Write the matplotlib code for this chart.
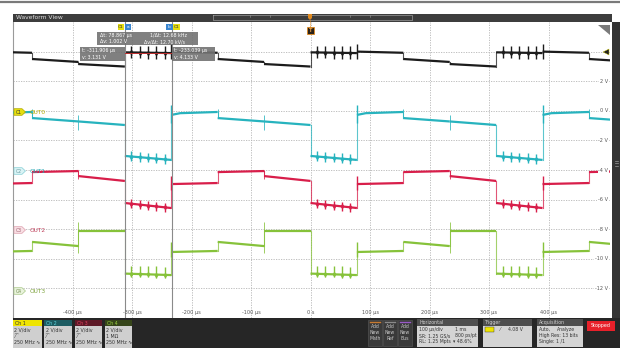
import numpy as np
import matplotlib
matplotlib.use('Agg')
import matplotlib.pyplot as plt
from matplotlib.patches import Rectangle, Polygon

plt.rcParams['font.family'] = ['DejaVu Sans']

# ---------------- data ----------------
time_ticks_us = [-400, -300, -200, -100, 0, 100, 200, 300, 400]
time_tick_labels = ['-400 µs', '-300 µs', '-200 µs', '-100 µs', '0 s', '100 µs', '200 µs', '300 µs', '400 µs']
volt_ticks = [2, 0, -2, -4, -6, -8, -10, -12]
volt_tick_labels = ['2 V', '0 V', '-2 V', '-4 V', '-6 V', '-8 V', '-10 V', '-12 V']

cycle_starts_us = [-624, -312, 0, 312]
phase_len_us = 78
burst_offsets_us = [11, 25, 39, 53, 67]

# (start, end) level of each phase in V : P0 burst, P1, P2, P3
black_levels = [(3.95, 3.90), (4.00, 3.92), (3.50, 3.30), (3.16, 2.99)]
cyan_levels = [(-3.05, -3.32), (-0.28, -0.08), (-0.49, -0.72), (-0.72, -0.96)]
red_levels = [(-6.23, -6.57), (-4.95, -4.88), (-4.14, -4.07), (-4.41, -4.74)]
green_levels = [(-11.00, -11.10), (-9.54, -9.47), (-8.86, -9.14), (-8.12, -8.12)]

# burst tick extents (up, down) from baseline, V
black_burst = (0.45, 0.40)
cyan_burst = (0.35, 0.30)
red_burst = (0.30, 0.30)
green_burst = (0.55, 0.20)

# spike at P0 -> P1 edge (max, min), V
black_spike = (4.50, 3.50)
cyan_spike = (0.39, -0.82)
red_spike = (-4.41, -5.36)
green_spike = (-8.86, -9.88)

# extra edge glitches: (offset in cycle µs, max V, min V)
cyan_glitches = [(234, -0.30, -1.30), (156, 0.10, -0.50)]
red_glitches = [(234, -4.00, -4.60)]
green_glitches = [(234, -7.50, -9.60)]
black_glitches = []

cursor_a_us = -311.906
cursor_b_us = -233.039

ch_colors = {'black': '#1c1c1c', 'cyan': '#27b3be', 'red': '#d81e4a', 'green': '#86c23a'}

# ---------------- figure ----------------
W, H = 620, 348
fig = plt.figure(figsize=(W / 100, H / 100), dpi=100)
fig.patch.set_facecolor('white')

ax = fig.add_axes([13 / W, 30 / H, 597 / W, 296 / H])
ax.set_xlim(-500, -500 + 597 / 0.595)
ax.set_ylim(-14, 6)
ax.set_facecolor('white')
for s in ['top', 'right', 'bottom']:
    ax.spines[s].set_visible(False)
ax.spines['left'].set_color('#9a9a9a')
ax.spines['left'].set_linewidth(0.8)
ax.set_xticks([])
ax.set_yticks([])

# grid
for t in time_ticks_us:
    ax.axvline(t, color='#b5b5b5', lw=0.6, ls=(0, (1.5, 1.5)), zorder=1)
for v in [4] + volt_ticks:
    ax.axhline(v, color='#b5b5b5', lw=0.6, ls=(0, (1.5, 1.5)), zorder=1)


def draw_channel(levels, burst, spike, glitches, color, knee=None):
    prev_end = None
    for c0 in cycle_starts_us:
        for p, (a, b) in enumerate(levels):
            t0 = c0 + p * phase_len_us
            t1 = t0 + phase_len_us
            ts = [t0, t1]
            vs = [a, b]
            if knee is not None and p == knee[0]:
                ts = [t0, t0 + knee[1], t1]
                vs = [a, knee[2], b]
            ax.plot(ts, vs, color=color, lw=1.6, solid_capstyle='butt', zorder=3)
            if prev_end is not None:
                ax.plot([t0, t0], [prev_end, a], color=color, lw=0.8, alpha=0.75, zorder=3)
            prev_end = b
        for o in burst_offsets_us:
            base = np.interp(o, [0, phase_len_us], levels[0])
            ax.vlines(c0 + o, base - burst[1], base + burst[0], color=color, lw=1.0, zorder=3)
            ax.plot([c0 + o], [base], marker='d', ms=3.2, color=color, mew=0, zorder=3)
        ax.vlines(c0 + phase_len_us, spike[1], spike[0], color=color, lw=1.0, zorder=3)
        for off, vmax, vmin in glitches:
            ax.vlines(c0 + off, vmin, vmax, color=color, lw=0.7, alpha=0.8, zorder=3)


draw_channel(black_levels, black_burst, black_spike, black_glitches, ch_colors['black'])
draw_channel(cyan_levels, cyan_burst, cyan_spike, cyan_glitches, ch_colors['cyan'], knee=(1, 15, -0.16))
draw_channel(red_levels, red_burst, red_spike, red_glitches, ch_colors['red'])
draw_channel(green_levels, green_burst, green_spike, green_glitches, ch_colors['green'])

# cursors
for tc in [cursor_a_us, cursor_b_us]:
    ax.axvline(tc, color='#8a8a8a', lw=0.8, zorder=4)
ax.plot([cursor_a_us, cursor_b_us], [3.92, 3.92], color='#c03030', lw=0.7, zorder=4)

# tick labels
xt = ax.get_xaxis_transform()
for t, lab in zip(time_ticks_us, time_tick_labels):
    ax.text(t, 0.017, lab, transform=xt, ha='center', va='center', fontsize=3.6, color='#555555', zorder=5)
yt = ax.get_yaxis_transform()
for v, lab in zip(volt_ticks, volt_tick_labels):
    ax.text(0.997, v, lab, transform=yt, ha='right', va='center', fontsize=3.6, color='#555555',
            bbox=dict(boxstyle='square,pad=0.15', fc='white', ec='none'), zorder=5)

# ---------------- overlay (pixel coords) ----------------
ov = fig.add_axes([0, 0, 1, 1], zorder=10)
ov.set_xlim(0, W)
ov.set_ylim(H, 0)
ov.axis('off')
ov.patch.set_alpha(0)


def rect(x0, y0, x1, y1, fc, ec='none', lw=0.5, z=1, alpha=1.0):
    ov.add_patch(Rectangle((x0, y0), x1 - x0, y1 - y0, fc=fc, ec=ec, lw=lw, zorder=z, alpha=alpha))


# top
ov.plot([0, W], [1.5, 1.5], color='#7a7a7a', lw=1.6)
rect(13, 13.5, 612, 22, '#3d3d3d')
ov.text(16, 17.8, 'Waveform View', fontsize=4.3, color='#e0e0e0', va='center')
ov.plot([213, 412, 412, 213, 213], [15.3, 15.3, 20.2, 20.2, 15.3], color='#9a9a9a', lw=0.5, zorder=2)
for xx in [250, 270, 350, 370]:
    ov.plot([xx, xx], [15.3, 17], color='#9a9a9a', lw=0.4, zorder=2)
ov.add_patch(Polygon([[308, 14], [312, 14], [312, 18], [310, 20], [308, 18]], closed=True, fc='#e08a20', ec='none', zorder=3))
ov.plot([310, 310], [20, 27], color='#e08a20', lw=0.7, ls=(0, (1, 1)), zorder=3)
rect(307, 27, 313.5, 33.5, '#2a2218', ec='#e08a20', lw=0.6, z=4)
ov.text(310.3, 30.4, 'T', fontsize=3.6, color='#f0a040', ha='center', va='center', weight='bold', zorder=5)

# right strip
rect(611.5, 22, 620, 318, '#343434')
for yy in [160.5, 163, 165.5]:
    ov.plot([615, 618], [yy, yy], color='#9a9a9a', lw=0.5)
ov.add_patch(Polygon([[598, 25], [610, 25], [610, 35]], closed=True, fc='#7a7a7a', ec='none'))
ov.add_patch(Polygon([[603, 52], [609, 49], [609, 55]], closed=True, fc='#222222', ec='#c8c000', lw=0.3))

# channel reference badges on the left
badges = [
    (112, 'C1', '#e6de10', '#b0a800', '#333333', 'OUT0', '#b4ac00'),
    (171, 'C2', '#d9f3f5', '#86cfd6', '#6a9aa0', 'OUT1', '#2aa8b5'),
    (230, 'C3', '#f8dfe4', '#dea0ae', '#a06070', 'OUT2', '#c0405c'),
    (291, 'C4', '#e9f3dc', '#a8c888', '#708a50', 'OUT3', '#7aa038'),
]
for yc, lab, fc, ec, tc, name, nc in badges:
    ov.add_patch(Polygon([[14, yc - 3.3], [22, yc - 3.3], [25.5, yc], [22, yc + 3.3], [14, yc + 3.3]],
                         closed=True, fc=fc, ec=ec, lw=0.5, zorder=6))
    ov.text(18.5, yc + 0.2, lab, fontsize=3.3, color=tc, ha='center', va='center', zorder=7)
    ov.text(30, yc + 0.2, name, fontsize=4.2, color=nc, ha='left', va='center', zorder=7)


def badge(x0, x1, y0, y1, fc, txt, tc):
    rect(x0, y0, x1, y1, fc, z=6)
    ov.text((x0 + x1) / 2, (y0 + y1) / 2 + 0.2, txt, fontsize=3.2, color=tc, ha='center', va='center', zorder=7)


badge(117.5, 124, 24, 30, '#e6de10', 'C1', '#333333')
badge(124.5, 131, 24, 30, '#3a86d0', 'a', 'white')
badge(166, 172.5, 24, 30, '#3a86d0', 'b', 'white')
badge(173, 179.5, 24, 30, '#e6de10', 'C1', '#333333')

# readouts
rect(97, 31.5, 198, 45, '#727272', z=6, alpha=0.9)
ov.text(100, 35, 'Δt: 78.867 µs', fontsize=3.4, color='white', va='center', zorder=7)
ov.text(150, 35, '1/Δt: 12.68 kHz', fontsize=3.4, color='white', va='center', zorder=7)
ov.text(100, 41.5, 'Δv: 1.002 V', fontsize=3.4, color='white', va='center', zorder=7)
ov.text(144, 41.5, 'Δv/Δt: 12.70 kV/s', fontsize=3.4, color='white', va='center', zorder=7)
rect(80, 47, 125, 61, '#727272', z=6, alpha=0.9)
ov.text(82, 50.5, 't: -311.906 µs', fontsize=3.4, color='white', va='center', zorder=7)
ov.text(82, 57.5, 'v: 3.131 V', fontsize=3.4, color='white', va='center', zorder=7)
rect(172, 47, 215, 61, '#727272', z=6, alpha=0.9)
ov.text(174, 50.5, 't: -233.039 µs', fontsize=3.4, color='white', va='center', zorder=7)
ov.text(174, 57.5, 'v: 4.133 V', fontsize=3.4, color='white', va='center', zorder=7)

# bottom panel
rect(13, 318, 620, 348, '#262626')
ch_boxes = [
    (13, 42, 'Ch 1', '#efe400', '#333333', ['2 V/div', '⁄⁀', '250 MHz ∿']),
    (44, 72, 'Ch 2', '#1d5c62', '#5fd4de', ['2 V/div', '⁄⁀', '250 MHz ∿']),
    (75, 102, 'Ch 3', '#5e1a28', '#e0405e', ['2 V/div', '⁄⁀', '250 MHz ∿']),
    (105, 132, 'Ch 4', '#36451a', '#98d040', ['2 V/div', '1 MΩ', '250 MHz ∿']),
]
for x0, x1, title, hc, htc, lines in ch_boxes:
    rect(x0, 320, x1, 326, hc)
    ov.text(x0 + 2, 323.2, title, fontsize=3.4, color=htc, va='center')
    rect(x0, 326, x1, 348, '#cfcfcf')
    for i, ln in enumerate(lines):
        ov.text(x0 + 1.5, 330 + i * 6, ln, fontsize=3.4, color='#333333', va='center')

for x0, col, word in [(368, '#c87a30', 'Math'), (383, '#8a8a8a', 'Ref'), (398, '#9a5ac8', 'Bus')]:
    rect(x0, 320, x0 + 14, 346, '#3a3a3a', ec='#5a5a5a', lw=0.4)
    ov.plot([x0 + 2, x0 + 12], [321.5, 321.5], color=col, lw=1.0)
    for i, w in enumerate(['Add', 'New', word]):
        ov.text(x0 + 7, 327 + i * 6, w, fontsize=3.3, color='#c8c8c8', ha='center', va='center')


def info_box(x0, x1, title, rows):
    rect(x0, 319, x1, 325.5, '#4e4e4e')
    ov.text(x0 + 2, 322.3, title, fontsize=3.4, color='#d0d0d0', va='center')
    rect(x0, 325.5, x1, 347, '#d4d4d4')
    for i, row in enumerate(rows):
        for dx, s in row:
            ov.text(x0 + dx, 329.5 + i * 6, s, fontsize=3.3, color='#333333', va='center')


info_box(417, 478, 'Horizontal', [[(2, '100 µs/div'), (38, '1 ms')],
                                  [(2, 'SR: 1.25 GS/s'), (38, '800 ps/pt')],
                                  [(2, 'RL: 1.25 Mpts'), (36, '▾ 48.6%')]])
info_box(483, 532, 'Trigger', [[(17, '⁄'), (25, '4.08 V')], [], []])
rect(485, 327, 494, 332, '#efe400', ec='#333333', lw=0.3)
info_box(537, 583, 'Acquisition', [[(2, 'Auto,'), (20, 'Analyze')],
                                   [(2, 'High Res: 13 bits')],
                                   [(2, 'Single: 1 /1')]])
rect(587, 321, 615, 331, '#e8202a')
ov.text(601, 326, 'Stopped', fontsize=3.4, color='white', ha='center', va='center')

fig.savefig('out.png', dpi=100)
